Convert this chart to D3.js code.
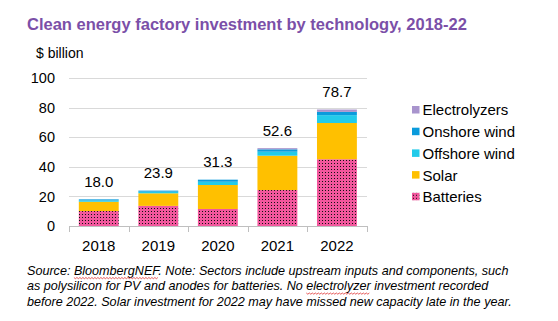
<!DOCTYPE html>
<meta charset="utf-8">
<script src="https://d3js.org/d3.v7.min.js"></script>
<style>
body { margin: 0; background: #fff; }
svg { display: block; font-family: Arial, "Liberation Sans", sans-serif; }
.grid line { stroke: #d9d9d9; stroke-width: 1; shape-rendering: crispEdges; }
</style>
<body>
<script>
// investment by year and technology, $ billion
var years = ["2018", "2019", "2020", "2021", "2022"];
var batteries = [10.1, 13.6, 11.5, 24.3, 45.1];
var solar = [6.3, 8.5, 16.2, 23.2, 24.5];
var offshoreWind = [0.9, 1.1, 2.2, 2.7, 5.3];
var onshoreWind = [0.7, 0.7, 1.4, 1.6, 2.2];
var electrolyzers = [0, 0, 0, 0.8, 1.6];
var totals = ["18.0", "23.9", "31.3", "52.6", "78.7"];
var yTicks = [0, 20, 40, 60, 80, 100];

var series = [
  {key: "Batteries", values: batteries, color: "url(#dots)"},
  {key: "Solar", values: solar, color: "#ffc000"},
  {key: "Offshore wind", values: offshoreWind, color: "#22cbea"},
  {key: "Onshore wind", values: onshoreWind, color: "#0a9bdc"},
  {key: "Electrolyzers", values: electrolyzers, color: "#a894cd"}
];

var footnote = [
  "Source: BloombergNEF. Note: Sectors include upstream inputs and components, such",
  "as polysilicon for PV and anodes for batteries. No electrolyzer investment recorded",
  "before 2022. Solar investment for 2022 may have missed new capacity late in the year."
];

var svg = d3.select("body").append("svg")
  .attr("width", 558)
  .attr("height", 321);

// pink fill with black dots for batteries
var pat = svg.append("defs").append("pattern")
  .attr("id", "dots")
  .attr("patternUnits", "userSpaceOnUse")
  .attr("width", 3).attr("height", 3);
pat.append("rect").attr("width", 3).attr("height", 3).attr("fill", "#f2579d");
pat.append("rect").attr("x", 1).attr("y", 1).attr("width", 1).attr("height", 1).attr("fill", "#111");

// title
svg.append("text")
  .attr("x", 27).attr("y", 30)
  .attr("font-size", "16.5px")
  .attr("font-weight", "bold")
  .attr("fill", "#7b4fa8")
  .text("Clean energy factory investment by technology, 2018-22");

svg.append("text")
  .attr("x", 36).attr("y", 58)
  .attr("font-size", "14px")
  .attr("fill", "#000")
  .text("$ billion");

var x = d3.scaleBand()
  .domain(years)
  .range([69, 366.7])
  .paddingInner(0.33)
  .paddingOuter(0.165);

var y = d3.scaleLinear()
  .domain([0, 100])
  .range([226, 78]);

// gridlines
svg.append("g")
  .attr("class", "grid")
  .selectAll("line")
  .data(yTicks.slice(1))
  .enter().append("line")
  .attr("x1", x.range()[0]).attr("x2", x.range()[1])
  .attr("y1", function(d) { return Math.round(y(d)) + 0.5; })
  .attr("y2", function(d) { return Math.round(y(d)) + 0.5; });

// y tick labels
svg.append("g")
  .selectAll("text")
  .data(yTicks)
  .enter().append("text")
  .attr("x", 55)
  .attr("y", function(d) { return y(d); })
  .attr("dy", "0.36em")
  .attr("text-anchor", "end")
  .attr("font-size", "14.5px")
  .text(function(d) { return d; });

// stacked bars
var rows = years.map(function(yr, i) {
  var r = {year: yr};
  series.forEach(function(s) { r[s.key] = s.values[i]; });
  return r;
});
var stack = d3.stack().keys(series.map(function(s) { return s.key; }))(rows);

svg.append("g")
  .selectAll("g")
  .data(stack)
  .enter().append("g")
  .attr("fill", function(d, i) { return series[i].color; })
  .selectAll("rect")
  .data(function(d) { return d.filter(function(p) { return p[1] > p[0]; }); })
  .enter().append("rect")
  .attr("x", function(d) { return x(d.data.year); })
  .attr("width", x.bandwidth())
  .attr("y", function(d) { return y(d[1]); })
  .attr("height", function(d) { return y(d[0]) - y(d[1]); });

// x axis line and tick marks at band edges
var step = x.step();
var axis = svg.append("g").attr("stroke", "#bfbfbf").attr("shape-rendering", "crispEdges");
axis.append("line")
  .attr("x1", x.range()[0]).attr("x2", x.range()[1])
  .attr("y1", 226.5).attr("y2", 226.5);
axis.selectAll(".tick")
  .data(d3.range(years.length + 1))
  .enter().append("line")
  .attr("x1", function(i) { return Math.round(x.range()[0] + i * step) + 0.5; })
  .attr("x2", function(i) { return Math.round(x.range()[0] + i * step) + 0.5; })
  .attr("y1", 226).attr("y2", 232);

svg.append("g")
  .selectAll("text")
  .data(years)
  .enter().append("text")
  .attr("x", function(d) { return x(d) + x.bandwidth() / 2; })
  .attr("y", 250.5)
  .attr("text-anchor", "middle")
  .attr("font-size", "15px")
  .text(function(d) { return d; });

// total labels above bars
svg.append("g")
  .selectAll("text")
  .data(totals)
  .enter().append("text")
  .attr("x", function(d, i) { return x(years[i]) + x.bandwidth() / 2; })
  .attr("y", function(d) { return y(+d) - 18; })
  .attr("dy", "0.36em")
  .attr("text-anchor", "middle")
  .attr("font-size", "15px")
  .text(function(d) { return d; });

// legend, top to bottom
var legend = svg.append("g")
  .selectAll("g")
  .data(series.slice().reverse())
  .enter().append("g")
  .attr("transform", function(d, i) { return "translate(412," + (110 + i * 21.7) + ")"; });
legend.append("rect")
  .attr("x", 0).attr("y", -4)
  .attr("width", 7.5).attr("height", 7.5)
  .attr("fill", function(d) { return d.color; });
legend.append("text")
  .attr("x", 10.5)
  .attr("dy", "0.36em")
  .attr("font-size", "15px")
  .text(function(d) { return d.key; });

// footnote
var note = svg.append("g");
var lines = note.selectAll("text")
  .data(footnote)
  .enter().append("text")
  .attr("x", 27)
  .attr("y", function(d, i) { return 274.5 + i * 15.5; })
  .attr("font-size", "12.6px")
  .attr("font-style", "italic")
  .text(function(d) { return d; });

// red wavy underline under words flagged by the spell checker
function squiggle(lineIdx, word) {
  var node = lines.nodes()[lineIdx];
  var s = footnote[lineIdx];
  var start = s.indexOf(word);
  var x0 = 27 + node.getSubStringLength(0, start);
  var w = node.getSubStringLength(start, word.length);
  var yb = 274.5 + lineIdx * 15.5 + 3;
  var pts = [];
  for (var px = 0; px <= w; px += 1.5) {
    pts.push([x0 + px, yb + (Math.round(px / 1.5) % 2 ? 1.2 : 0)]);
  }
  note.append("path")
    .attr("d", d3.line()(pts))
    .attr("fill", "none")
    .attr("stroke", "#e03030")
    .attr("stroke-width", 0.8);
}
squiggle(0, "BloombergNEF");
squiggle(1, "electrolyzer");
</script>
</body>
